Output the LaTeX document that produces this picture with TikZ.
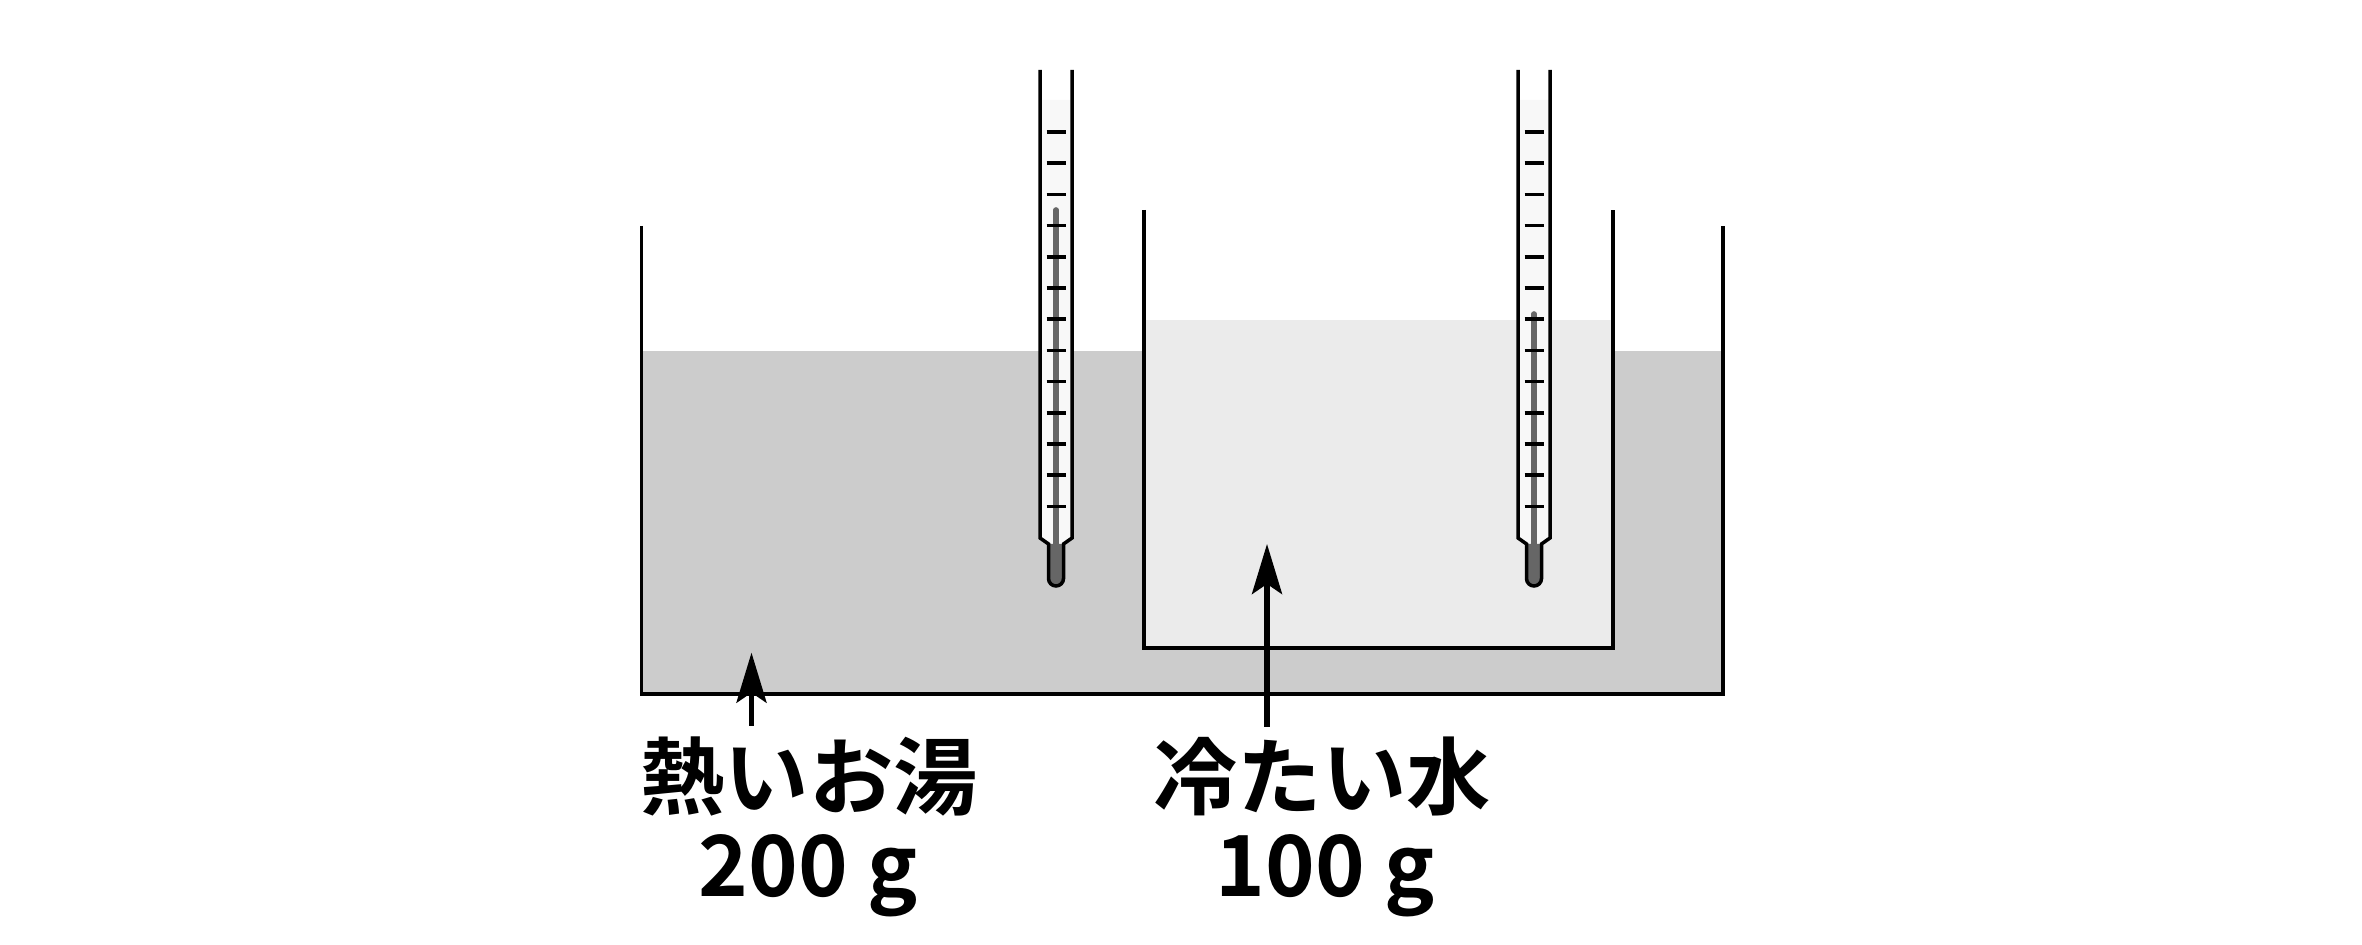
\documentclass[tikz,border=0pt]{standalone}
\usepackage{fontspec}
\newfontfamily\jpfont{Noto Sans CJK JP Bold}
\usetikzlibrary{arrows.meta}
\definecolor{hotwater}{gray}{0.8}
\definecolor{coldwater}{gray}{0.92}
\definecolor{glass}{gray}{0.973}
\definecolor{mercury}{gray}{0.4}
\begin{document}
\begin{tikzpicture}[
    wall/.style={line width=1pt, black},
    pointer/.style={line width=1.5pt, -{Stealth[length=5mm, width=3mm, inset=1mm]}},
    textlabel/.style={font=\jpfont\fontsize{24}{25}\selectfont, anchor=base, inner sep=0pt}
  ]
            \useasboundingbox (0,0) rectangle (23.62,9.45);
            % water
            \fill[hotwater] (6.415,2.51) rectangle (17.23,5.94);
            \fill[coldwater] (11.44,2.97) rectangle (16.13,6.25);
            % beakers
            \draw[wall] (6.415,7.19)--(6.415,2.51)--(17.23,2.51)--(17.23,7.19);
            \draw[wall] (11.44,7.35)--(11.44,2.97)--(16.13,2.97)--(16.13,7.35);
            % thermometers
            \foreach \tx/\ty in {10.56/7.35, 15.34/6.31}{
                \fill[glass] (\tx-0.16,8.45)--(\tx-0.16,4.07)--(\tx-0.075,4.01)--(\tx+0.075,4.01)--(\tx+0.16,4.07)--(\tx+0.16,8.45)--cycle;
                \fill[mercury] (\tx-0.075,4.01)--(\tx-0.075,3.665) arc(180:360:0.075)--(\tx+0.075,4.01)--cycle;
                \draw[mercury, line width=1.6pt, line cap=round] (\tx,\ty)--(\tx,3.9);
                \foreach \k in {0,...,12}
                    \draw[line width=1pt] (\tx-0.095,8.13-0.312*\k)--(\tx+0.095,8.13-0.312*\k);
                \draw[wall] (\tx-0.16,8.75)--(\tx-0.16,4.07)--(\tx-0.075,4.01)--(\tx-0.075,3.665) arc(180:360:0.075)--(\tx+0.075,4.01)--(\tx+0.16,4.07)--(\tx+0.16,8.75);
            }
            % labels
            \node[textlabel] (hotname) at (8.09,1.36) {熱いお湯};
            \node[textlabel] (hotmass) at (8.08,0.485) {200 g};
            \node[textlabel] (coldname) at (13.22,1.36) {冷たい水};
            \node[textlabel] (coldmass) at (13.25,0.485) {100 g};
            % arrows
            \coordinate (hottail) at (7.515,2.19);
            \coordinate (hottip) at (7.515,2.923);
            \coordinate (coldtail) at (12.67,2.18);
            \coordinate (coldtip) at (12.67,4.01);
            \draw[pointer] (hottail)--(hottip);
            \draw[pointer] (coldtail)--(coldtip);
\end{tikzpicture}
\end{document}
